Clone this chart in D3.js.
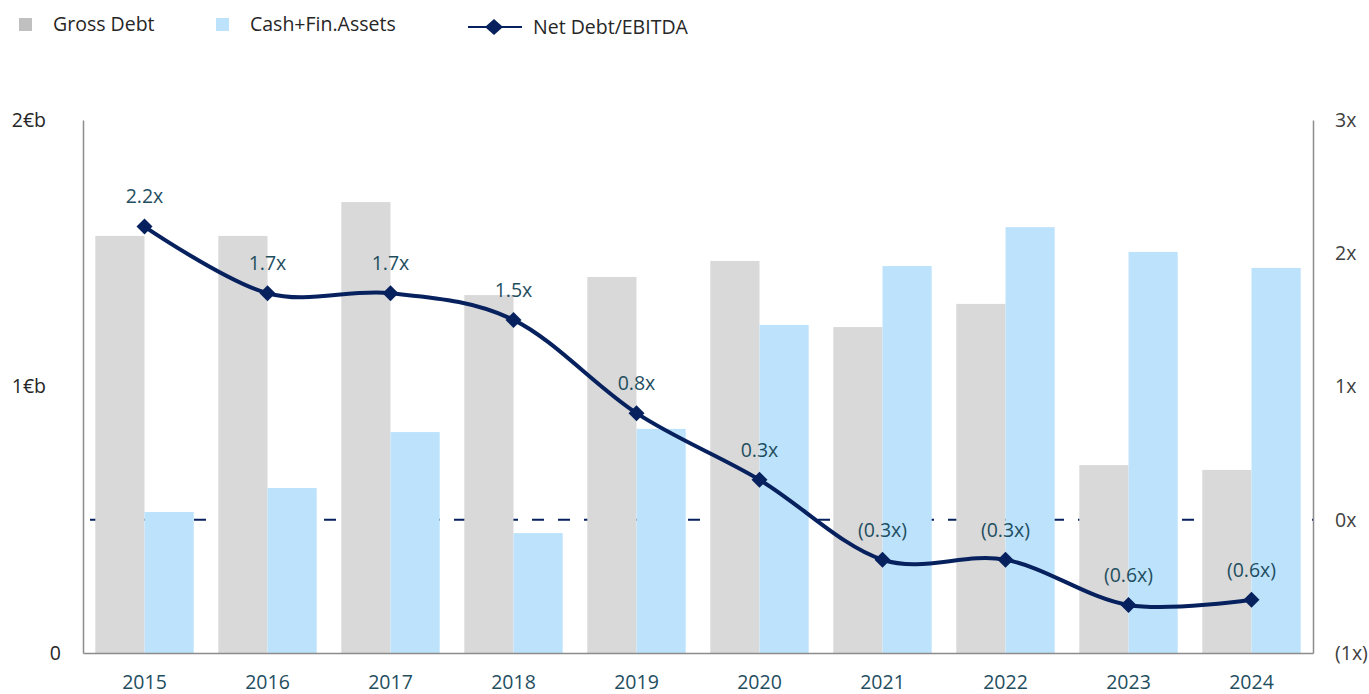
<!DOCTYPE html>
<html>
<head>
<meta charset="utf-8">
<script src="https://cdn.jsdelivr.net/npm/d3@7"></script>
<style>
  html, body { margin: 0; padding: 0; background: #ffffff; }
  svg { display: block; font-family: "Open Sans", "Noto Sans", sans-serif; }
</style>
</head>
<body>
<svg id="chart" width="1369" height="694"></svg>
<script>
// ---- data ----
const years = ["2015","2016","2017","2018","2019","2020","2021","2022","2023","2024"];
const grossDebt = [1.565, 1.565, 1.692, 1.343, 1.411, 1.471, 1.223, 1.310, 0.705, 0.687];
const cashFinAssets = [0.529, 0.619, 0.829, 0.450, 0.841, 1.231, 1.452, 1.598, 1.505, 1.445];
const netDebtEbitda = [2.2, 1.7, 1.7, 1.5, 0.8, 0.3, -0.3, -0.3, -0.64, -0.6];
const leftTicks = [0, 1, 2];
const leftTickLabels = ["0", "1€b", "2€b"];
const rightTicks = [-1, 0, 1, 2, 3];
const rightTickLabels = ["(1x)", "0x", "1x", "2x", "3x"];
const seriesNames = ["Gross Debt", "Cash+Fin.Assets", "Net Debt/EBITDA"];

// ---- styles ----
const greyBar = "#d9d9d9", blueBar = "#bde3fc", navy = "#06215e";
const tealText = "#1f4e5f", darkText = "#262626", axisGrey = "#8c8c8c";
const fs = 19.5;

const svg = d3.select("#chart");
const pLeft = 83, pRight = 1313, pTop = 120, pBottom = 653;

const x0 = d3.scaleBand().domain(years).range([pLeft, pRight]).paddingInner(0.2).paddingOuter(0.1);
const x1 = d3.scaleBand().domain(["gross","cash"]).range([0, x0.bandwidth()]).padding(0);
const yL = d3.scaleLinear().domain([0, 2]).range([pBottom, pTop]);
const yR = d3.scaleLinear().domain([-1, 3]).range([pBottom, pTop]);

// zero-line dashed (behind bars)
svg.append("line")
  .attr("x1", pLeft + 7).attr("x2", pRight)
  .attr("y1", yR(0)).attr("y2", yR(0))
  .attr("stroke", navy).attr("stroke-width", 2)
  .attr("stroke-dasharray", "12,14");

// bars
const groups = svg.append("g").selectAll("g").data(years).join("g")
  .attr("transform", d => `translate(${x0(d)},0)`);
groups.append("rect")
  .attr("x", x1("gross")).attr("width", x1.bandwidth())
  .attr("y", (d, i) => yL(grossDebt[i]))
  .attr("height", (d, i) => yL(0) - yL(grossDebt[i]))
  .attr("fill", greyBar);
groups.append("rect")
  .attr("x", x1("cash")).attr("width", x1.bandwidth())
  .attr("y", (d, i) => yL(cashFinAssets[i]))
  .attr("height", (d, i) => yL(0) - yL(cashFinAssets[i]))
  .attr("fill", blueBar);

// axes
const axisL = d3.axisLeft(yL).tickValues(leftTicks).tickSize(0).tickPadding(0)
  .tickFormat((d, i) => leftTickLabels[i]);
const gL = svg.append("g").attr("transform", `translate(${pLeft},0)`).call(axisL);
gL.select(".domain").attr("stroke", axisGrey).attr("stroke-width", 1.5);
gL.selectAll("text").attr("font-size", fs).attr("fill", darkText)
  .attr("font-family", "Open Sans, sans-serif")
  .attr("x", d => d === 0 ? -22 : -37);

const axisR = d3.axisRight(yR).tickValues(rightTicks).tickSize(0).tickPadding(0)
  .tickFormat((d, i) => rightTickLabels[i]);
const gR = svg.append("g").attr("transform", `translate(${pRight},0)`).call(axisR);
gR.select(".domain").attr("stroke", axisGrey).attr("stroke-width", 1.5);
gR.selectAll("text").attr("font-size", fs).attr("fill", "#404040")
  .attr("font-family", "Open Sans, sans-serif").attr("x", 22);

const axisB = d3.axisBottom(x0).tickSize(0).tickPadding(0);
const gB = svg.append("g").attr("transform", `translate(0,${pBottom})`).call(axisB);
gB.select(".domain").attr("stroke", axisGrey).attr("stroke-width", 1.5);
gB.selectAll("text").attr("font-size", fs).attr("fill", tealText)
  .attr("font-family", "Open Sans, sans-serif").attr("y", 22);

// line
const cx = d => x0(d) + x0.bandwidth() / 2;
const line = d3.line().x((d, i) => cx(years[i])).y(d => yR(d)).curve(d3.curveCatmullRom.alpha(0));
svg.append("path").datum(netDebtEbitda)
  .attr("d", line).attr("fill", "none").attr("stroke", navy).attr("stroke-width", 4)
  .attr("stroke-linejoin", "round");

const diamond = "M0,-8L8,0L0,8L-8,0Z";
svg.append("g").selectAll("path").data(netDebtEbitda).join("path")
  .attr("d", diamond)
  .attr("transform", (d, i) => `translate(${cx(years[i])},${yR(d)})`)
  .attr("fill", navy);

const fmt = d3.format(".1f");
svg.append("g").selectAll("text").data(netDebtEbitda).join("text")
  .attr("x", (d, i) => cx(years[i]))
  .attr("y", d => yR(d) - 30)
  .attr("dy", "0.35em")
  .attr("text-anchor", "middle")
  .attr("font-size", fs).attr("fill", tealText)
  .text(d => d < 0 ? `(${fmt(-d)}x)` : `${fmt(d)}x`);

// legend
const lg = svg.append("g");
lg.append("rect").attr("x", 19).attr("y", 18).attr("width", 13).attr("height", 13).attr("fill", "#c0c0c0");
lg.append("text").attr("x", 53).attr("y", 24).attr("dy", "0.35em").attr("font-size", fs).attr("fill", darkText).text(seriesNames[0]);
lg.append("rect").attr("x", 216).attr("y", 18).attr("width", 13).attr("height", 13).attr("fill", blueBar);
lg.append("text").attr("x", 250).attr("y", 24).attr("dy", "0.35em").attr("font-size", fs).attr("fill", darkText).text(seriesNames[1]);
lg.append("line").attr("x1", 468).attr("x2", 522).attr("y1", 27).attr("y2", 27).attr("stroke", navy).attr("stroke-width", 2);
lg.append("path").attr("d", "M0,-8L9,0L0,8L-9,0Z").attr("transform", "translate(494,27)").attr("fill", navy);
lg.append("text").attr("x", 533).attr("y", 27).attr("dy", "0.35em").attr("font-size", fs).attr("fill", darkText).text(seriesNames[2]);
</script>
</body>
</html>
